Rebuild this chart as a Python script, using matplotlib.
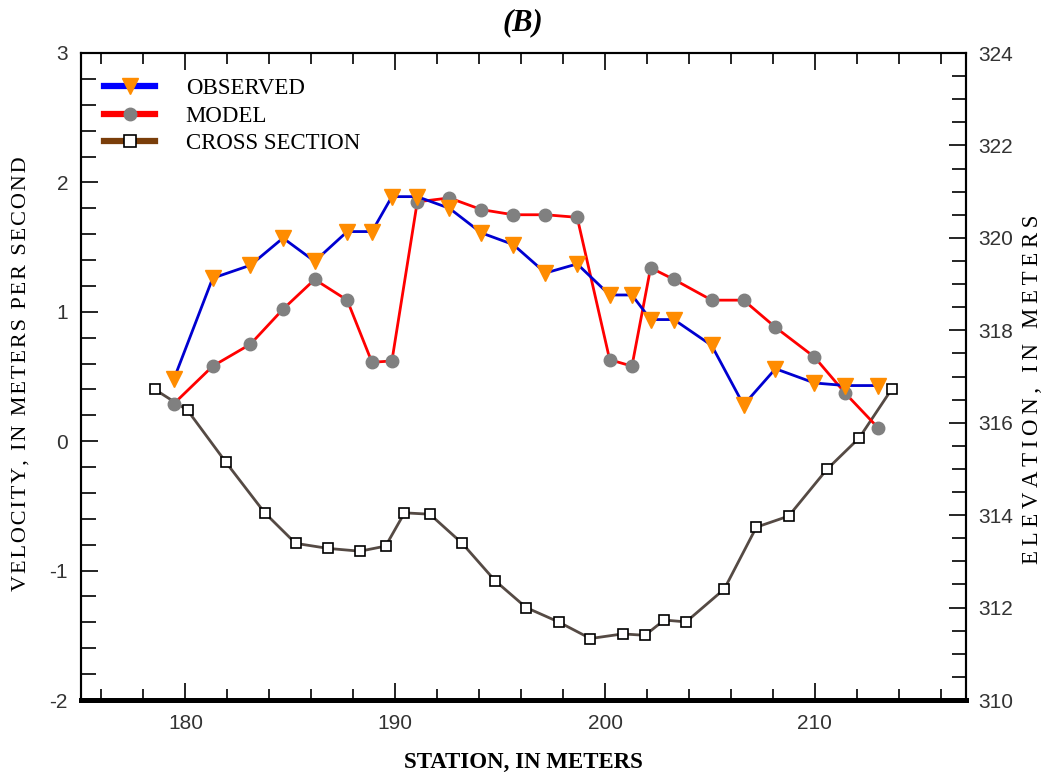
import matplotlib
matplotlib.use("Agg")
import matplotlib.pyplot as plt
from matplotlib.lines import Line2D
from matplotlib.ticker import MultipleLocator

plt.rcParams['axes.unicode_minus'] = False

# ---- data ----
station = [179.45, 181.3, 183.1, 184.65, 186.16, 187.71, 188.89, 189.84, 191.05,
           192.58, 194.1, 195.62, 197.16, 198.67, 200.22, 201.28, 202.17, 203.28,
           205.08, 206.6, 208.12, 209.98, 211.45, 213.03]
observed = [0.48, 1.26, 1.36, 1.57, 1.39, 1.62, 1.62, 1.89, 1.89,
            1.80, 1.61, 1.52, 1.30, 1.37, 1.13, 1.13, 0.94, 0.94,
            0.74, 0.28, 0.56, 0.45, 0.43, 0.43]
model = [0.29, 0.58, 0.75, 1.02, 1.25, 1.09, 0.61, 0.62, 1.85,
         1.88, 1.79, 1.75, 1.75, 1.73, 0.63, 0.58, 1.34, 1.25,
         1.09, 1.09, 0.88, 0.65, 0.37, 0.10]
xs_station = [178.54, 180.1, 181.92, 183.78, 185.25, 186.8, 188.32, 189.54, 190.44,
              191.65, 193.19, 194.76, 196.24, 197.78, 199.3, 200.84, 201.9, 202.82,
              203.86, 205.68, 207.21, 208.75, 210.57, 212.11, 213.65]
xs_elev = [316.72, 316.27, 315.15, 314.05, 313.39, 313.28, 313.22, 313.33, 314.05,
           314.02, 313.39, 312.58, 312.0, 311.69, 311.33, 311.43, 311.4, 311.73,
           311.69, 312.4, 313.74, 313.98, 314.99, 315.67, 316.72]
legend_labels = ["OBSERVED", "MODEL", "CROSS SECTION"]


def spaced(s, sp="\u2009"):
    return sp.join(s)


W, H = 1046, 777
fig = plt.figure(figsize=(W / 100, H / 100), dpi=100)
L, R, T, B = 80.5, 966, 53, 700
ax = fig.add_axes([L / W, 1 - B / H, (R - L) / W, (B - T) / H])
ax2 = ax.twinx()
ax.set_zorder(ax2.get_zorder() + 1)
ax.patch.set_visible(False)

tickfont = ['Liberation Sans', 'DejaVu Sans']
serif = ['Liberation Serif', 'DejaVu Serif']

# cross section on right axis
ax2.plot(xs_station, xs_elev, color='#554a44', lw=2.0, marker='s', ms=7,
         mfc='white', mec='black', mew=1.2, zorder=2)
# velocity series
ax.plot(station, model, color='#ff0000', lw=2.0, marker='o', ms=9,
        mfc='#808080', mec='#808080', zorder=3)
ax.plot(station, observed, color='#0000d0', lw=2.0, marker='v', ms=11,
        mfc='#ff8c00', mec='#ff8c00', zorder=4)

ax.set_xlim(175, 217.2)
ax.set_ylim(-2, 3)
ax2.set_ylim(310, 324)

ax.xaxis.set_major_locator(MultipleLocator(10))
ax.xaxis.set_minor_locator(MultipleLocator(2))
ax.yaxis.set_major_locator(MultipleLocator(1))
ax.yaxis.set_minor_locator(MultipleLocator(0.2))
ax2.yaxis.set_major_locator(MultipleLocator(2))
ax2.yaxis.set_minor_locator(MultipleLocator(0.5))

ax.tick_params(axis='x', which='both', direction='in', top=True, bottom=True,
               colors='black', labelcolor='#333333', width=1.2, pad=10)
ax.tick_params(axis='x', which='major', length=12)
ax.tick_params(axis='x', which='minor', length=8)
ax.tick_params(axis='y', which='both', direction='in', left=True, right=False,
               labelcolor='#333333', width=1.2, pad=9)
ax.tick_params(axis='y', which='major', length=12)
ax.tick_params(axis='y', which='minor', length=11)
ax2.tick_params(axis='y', which='both', direction='in', right=True,
                labelcolor='#333333', width=1.2, pad=9)
ax2.tick_params(axis='y', which='major', length=12)
ax2.tick_params(axis='y', which='minor', length=10)

for lab in ax.get_xticklabels() + ax.get_yticklabels() + ax2.get_yticklabels():
    lab.set_family(tickfont)
    lab.set_fontsize(15)

for a in (ax, ax2):
    for s in ('top', 'left', 'right'):
        a.spines[s].set_linewidth(1.5)
    a.spines['bottom'].set_linewidth(3.5)

ax.set_xlabel("STATION, IN METERS", family=serif, fontweight='bold', fontsize=16.5)
ax.set_ylabel(spaced("VELOCITY, IN METERS PER SECOND", "\u200a"), family=serif,
              fontsize=16)
ax2.set_ylabel(spaced("ELEVATION, IN METERS"), family=serif, fontsize=16.5)
ax.yaxis.set_label_coords(-0.056, 0.505)
ax2.yaxis.set_label_coords(1.063, 0.48)
ax.xaxis.set_label_coords(0.5, -0.08)

fig.text(523 / W, 1 - 23 / H, "(B)", family=serif, fontweight='bold',
         style='italic', fontsize=22, ha='center', va='center')

handles = [
    Line2D([], [], color='#0000ff', lw=4.5, marker='v', ms=11, mfc='#ff8c00', mec='#ff8c00'),
    Line2D([], [], color='#ff0000', lw=4.5, marker='o', ms=9, mfc='#808080', mec='#808080'),
    Line2D([], [], color='#7a3e0a', lw=4.5, marker='s', ms=9, mfc='white', mec='black', mew=1.2),
]
ax.legend(handles, legend_labels, loc='upper left', bbox_to_anchor=(0.027, 0.962),
          frameon=False, borderaxespad=0, borderpad=0, handlelength=2.2,
          handletextpad=1.35, labelspacing=0.3, numpoints=1,
          prop={'family': serif, 'size': 16.5})

fig.savefig("out.png", dpi=100)
